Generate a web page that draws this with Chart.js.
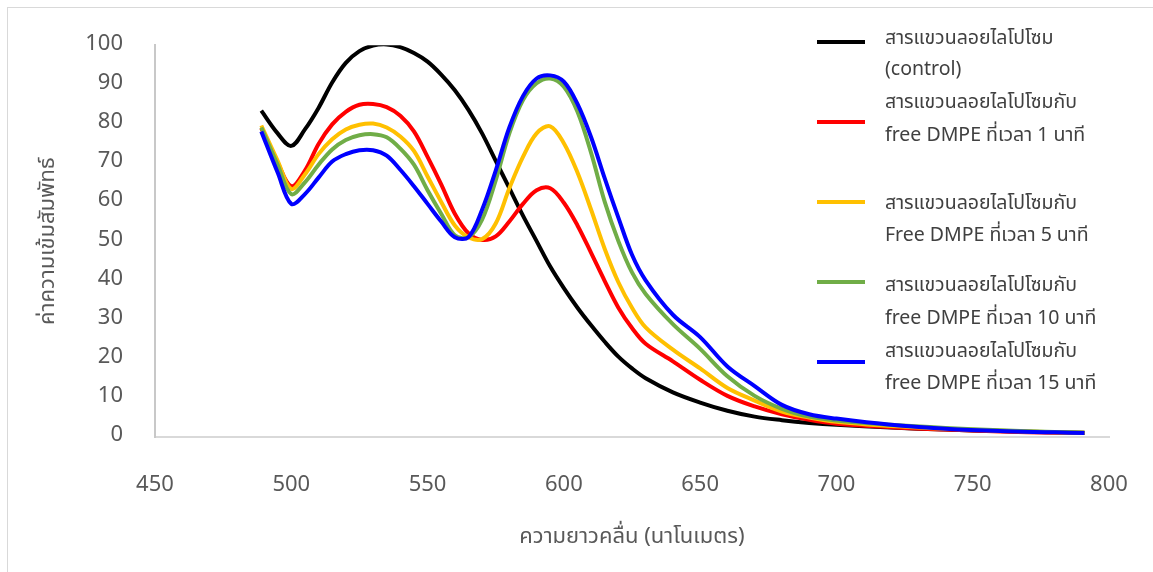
<!DOCTYPE html>
<html>
<head>
<meta charset="utf-8">
<script src="https://cdn.jsdelivr.net/npm/chart.js@4"></script>
<style>
  html, body { margin: 0; padding: 0; background: #fff; }
  #wrap { width: 1153px; height: 572px; position: relative; }
</style>
</head>
<body>
<div id="wrap"><canvas id="chart"></canvas></div>
<script>
// wavelength (nm)
const wavelengths = [489, 495, 500, 505, 510, 515, 520, 525, 530, 535, 540, 545, 550, 555, 560, 565, 570, 575, 580, 585,
  590, 595, 600, 605, 610, 615, 620, 625, 630, 640, 650, 660, 670, 680, 690, 700, 720, 740, 760, 780, 791];

const control = [83.3, 77.5, 74.3, 78.5, 84, 90.5, 95.5, 98.5, 99.9, 100.2, 99.5, 98, 95.8, 92.5, 88.5, 83.5, 77.5, 70.5, 63.5, 56.5,
  50, 43.5, 38, 33, 28.5, 24.3, 20.5, 17.5, 15, 11.4, 8.8, 6.7, 5.2, 4.3, 3.6, 3.1, 2.4, 1.9, 1.5, 1.2, 1.1];
const dmpe1 = [78.8, 70, 64, 68, 74.8, 79.8, 83, 84.8, 85, 84.2, 82, 78, 71.5, 64.5, 57, 52, 50.3, 51.2, 55, 59.5,
  63, 63.5, 59.8, 54, 47, 39.8, 33, 27.8, 23.8, 19.3, 14.6, 10.5, 7.8, 5.8, 4.4, 3.4, 2.5, 1.9, 1.4, 1.1, 1.0];
const dmpe5 = [79.5, 70.5, 63.3, 67, 72.2, 76, 78.5, 79.7, 80, 79, 76.7, 73, 66.5, 60, 54, 51, 50.5, 54.5, 63.5, 71.5,
  77.5, 79.3, 75, 67.5, 58, 48, 39.5, 33, 28, 22.3, 17.5, 12.5, 9.3, 6.5, 5, 3.9, 2.8, 2.1, 1.6, 1.2, 1.1];
const dmpe10 = [79, 69.5, 62, 65, 69.5, 73.4, 75.8, 77, 77.3, 76.5, 73.6, 69.5, 63, 57, 51.5, 51, 55.5, 65.5, 77.5, 86,
  90.3, 91.5, 89.4, 83, 72.5, 60, 50, 42, 36.5, 28.8, 22.5, 15.5, 10.5, 7.2, 5.2, 4.2, 3.1, 2.3, 1.7, 1.3, 1.1];
const dmpe15 = [78, 67.5, 59.5, 62, 66.2, 70.3, 72.2, 73.2, 73.2, 71.8, 68.2, 64, 59.5, 55, 51, 51, 58, 68, 79, 87,
  91.5, 92.3, 90.7, 85, 76.5, 66, 56, 46.5, 40, 31.2, 25.5, 18, 13, 8.2, 5.8, 4.7, 3.1, 2.1, 1.5, 1.2, 1.0];

const seriesLabels = [
  ['สารแขวนลอยไลโปโซม', '(control)'],
  ['สารแขวนลอยไลโปโซมกับ', 'free DMPE ที่เวลา 1 นาที'],
  ['สารแขวนลอยไลโปโซมกับ', 'Free DMPE ที่เวลา 5 นาที'],
  ['สารแขวนลอยไลโปโซมกับ', 'free DMPE ที่เวลา 10 นาที'],
  ['สารแขวนลอยไลโปโซมกับ', 'free DMPE ที่เวลา 15 นาที'],
];
const seriesColors = ['#000000', '#ff0000', '#ffc000', '#70ad47', '#0000ff'];

const xTitle = 'ความยาวคลื่น (นาโนเมตร)';
const yTitle = 'ค่าความเข้มสัมพัทธ์';

const FONT = "'Noto Sans Thai', 'Noto Sans', 'Open Sans', sans-serif";
const tickColor = '#595959';

const toPoints = (vals) => vals.map((v, i) => ({ x: wavelengths[i], y: v }));

const allSeries = [control, dmpe1, dmpe5, dmpe10, dmpe15];

// legend drawn by hand so it can sit inside the plot like the original
const legendPlugin = {
  id: 'sideLegend',
  afterDraw(chart) {
    const { ctx } = chart;
    const lineY = [42, 122, 202, 282, 362];
    const textY = [[40, 71], [104, 137], [205, 237], [287, 320], [353, 385]];
    ctx.save();
    chart.data.datasets.forEach((ds, i) => {
      ctx.strokeStyle = ds.borderColor;
      ctx.lineWidth = 4;
      ctx.beginPath();
      ctx.moveTo(817, lineY[i]);
      ctx.lineTo(865, lineY[i]);
      ctx.stroke();
      ctx.fillStyle = '#404040';
      ctx.font = `19.5px ${FONT}`;
      ctx.textBaseline = 'middle';
      ctx.textAlign = 'left';
      seriesLabels[i].forEach((t, j) => ctx.fillText(t, 885, textY[i][j]));
    });
    ctx.restore();
  }
};

const framePlugin = {
  id: 'frame',
  beforeDraw(chart) {
    const { ctx } = chart;
    ctx.save();
    ctx.fillStyle = '#fff';
    ctx.fillRect(0, 0, chart.width, chart.height);
    ctx.strokeStyle = '#d9d9d9';
    ctx.lineWidth = 1;
    ctx.strokeRect(7.5, 7.5, 1300, 800);
    ctx.restore();
  }
};

const ticks = {
  color: tickColor,
  font: { size: 22, family: FONT },
};

new Chart(document.getElementById('chart'), {
  type: 'line',
  data: {
    datasets: allSeries.map((vals, i) => ({
      label: seriesLabels[i].join(' '),
      data: toPoints(vals),
      borderColor: seriesColors[i],
      borderWidth: 4,
      pointRadius: 0,
      tension: 0.35,
      fill: false,
      order: allSeries.length - i,
    })),
  },
  options: {
    responsive: true,
    maintainAspectRatio: false,
    animation: false,
    layout: { padding: { left: 0, right: 44, top: 41, bottom: 0 } },
    plugins: {
      legend: { display: false },
      tooltip: { enabled: false },
    },
    scales: {
      x: {
        type: 'linear',
        min: 450,
        max: 800,
        ticks: { ...ticks, stepSize: 50, padding: 36 },
        grid: { display: false, drawTicks: false },
        border: { display: true, color: '#d9d9d9', width: 2 },
        title: {
          display: true,
          text: xTitle,
          color: tickColor,
          font: { size: 22, family: FONT },
          padding: { top: 0, bottom: 20 },
        },
        afterFit(scale) {
          scale.height = 135;
          scale.paddingLeft = 0;
          scale.paddingRight = 0;
        },
      },
      y: {
        min: 0,
        max: 100,
        ticks: { ...ticks, stepSize: 10, padding: 32 },
        grid: { display: false, drawTicks: false },
        border: { display: true, color: '#c8c8c8', width: 2 },
        title: {
          display: true,
          text: yTitle,
          color: tickColor,
          font: { size: 22, family: FONT },
          padding: { top: 36, bottom: 0 },
        },
        afterFit(scale) { scale.width = 155; },
      },
    },
  },
  plugins: [framePlugin, legendPlugin],
});
</script>
</body>
</html>
